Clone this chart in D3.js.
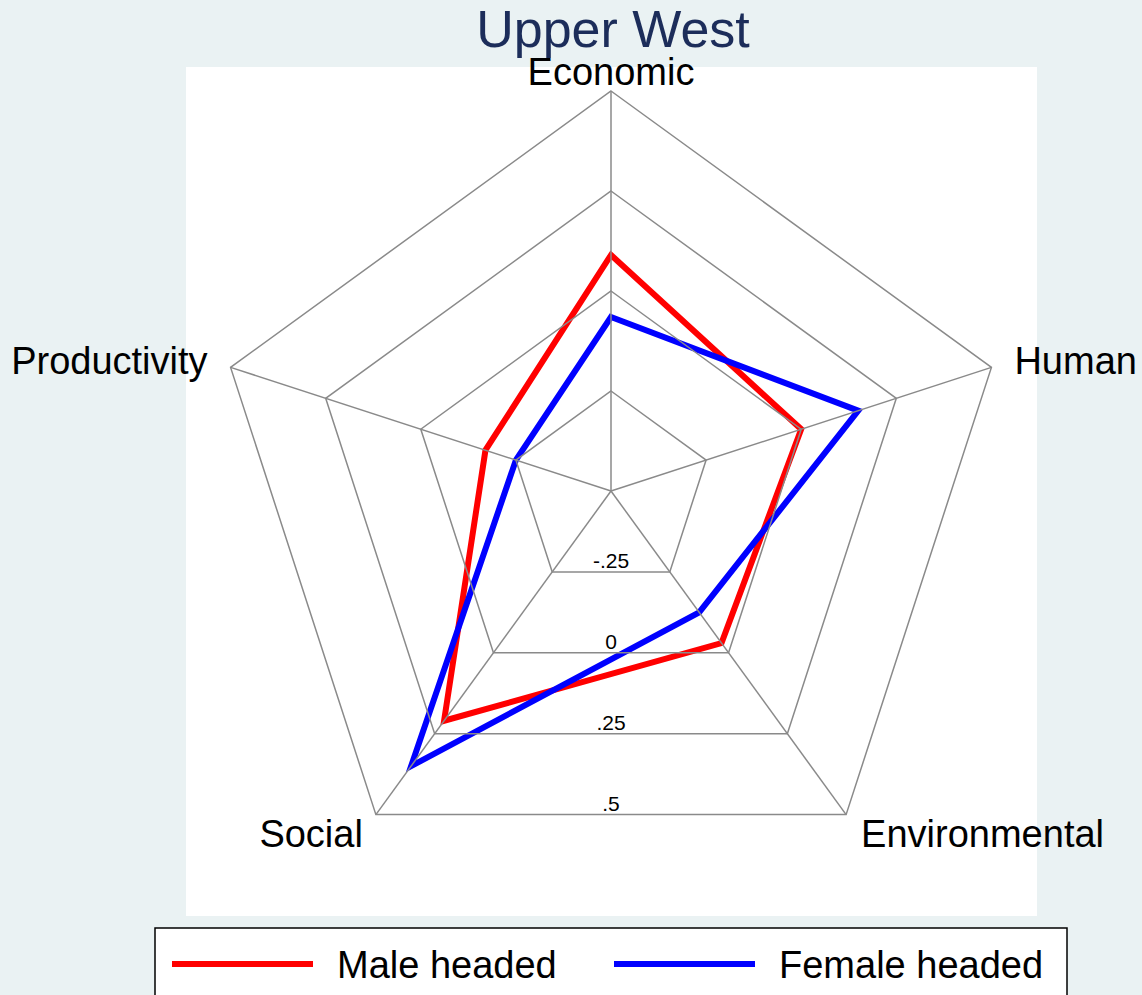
<!DOCTYPE html>
<html>
<head>
<meta charset="utf-8">
<script src="https://cdn.jsdelivr.net/npm/d3@7"></script>
<style>
  body { margin: 0; background: #eaf2f3; }
  text { font-family: "Liberation Sans", Arial, sans-serif; }
</style>
</head>
<body>
<div class="wrapper"></div>
<script>
// chart data
var axes = ["Economic", "Human", "Environmental", "Social", "Productivity"];
var seriesNames = ["Male headed", "Female headed"];
var maleValues = [0.09, 0.0, -0.03, 0.21, -0.17];
var femaleValues = [-0.065, 0.15, -0.125, 0.35, -0.25];
var ringValues = [-0.25, 0, 0.25, 0.5];
var ringLabels = ["-.25", "0", ".25", ".5"];
var seriesColors = ["#ff0000", "#0000ff"];

var width = 1142, height = 995;
var cx = 611, cy = 491;

var svg = d3.select(".wrapper")
  .append("svg")
    .attr("width", width)
    .attr("height", height);

// background + plot region
svg.append("rect")
    .attr("width", width).attr("height", height)
    .attr("fill", "#eaf2f3");
svg.append("rect")
    .attr("x", 186).attr("y", 67)
    .attr("width", 851).attr("height", 849)
    .attr("fill", "#ffffff");

var r = d3.scaleLinear()
    .domain([-0.5, 0.5])
    .range([0, 400]);

var angle = d3.scaleLinear()
    .domain([0, axes.length])
    .range([0, 2 * Math.PI]);

function point(i, v) {
  var a = angle(i);
  return [cx + r(v) * Math.sin(a), cy - r(v) * Math.cos(a)];
}

var g = svg.append("g");

// data polygons
var radial = d3.lineRadial()
    .angle(function(d, i) { return angle(i); })
    .radius(function(d) { return r(d); })
    .curve(d3.curveLinearClosed);

[maleValues, femaleValues].forEach(function(vals, k) {
  g.append("path")
      .attr("transform", "translate(" + cx + "," + cy + ")")
      .attr("d", radial(vals))
      .attr("fill", "none")
      .attr("stroke", seriesColors[k])
      .attr("stroke-width", 6)
      .attr("stroke-linejoin", "miter");
});

// grid on top of the lines
var grid = g.append("g")
    .attr("stroke", "#8a8a8a")
    .attr("stroke-width", 1.5)
    .attr("fill", "none");

ringValues.forEach(function(v) {
  grid.append("path")
      .attr("transform", "translate(" + cx + "," + cy + ")")
      .attr("d", radial(axes.map(function() { return v; })));
});

axes.forEach(function(a, i) {
  var p = point(i, 0.5);
  grid.append("line")
      .attr("x1", cx).attr("y1", cy)
      .attr("x2", p[0]).attr("y2", p[1]);
});

// ring labels along the bottom
ringValues.forEach(function(v, i) {
  g.append("text")
      .attr("x", cx)
      .attr("y", cy + r(v) * Math.cos(Math.PI / 5) - 4)
      .attr("text-anchor", "middle")
      .attr("font-size", 21)
      .attr("fill", "#000")
      .text(ringLabels[i]);
});

// axis labels
var labelPos = [
  {dx: 0, dy: -6, anchor: "middle"},
  {dx: 23, dy: 7, anchor: "start"},
  {dx: 15, dy: 32, anchor: "start"},
  {dx: -13, dy: 32, anchor: "end"},
  {dx: -23, dy: 7, anchor: "end"}
];
axes.forEach(function(a, i) {
  var p = point(i, 0.5);
  g.append("text")
      .attr("x", p[0] + labelPos[i].dx)
      .attr("y", p[1] + labelPos[i].dy)
      .attr("text-anchor", labelPos[i].anchor)
      .attr("font-size", 38)
      .attr("fill", "#000")
      .text(a);
});

// title
svg.append("text")
    .attr("x", 613)
    .attr("y", 47)
    .attr("text-anchor", "middle")
    .attr("font-size", 52)
    .attr("fill", "#1c2d5a")
    .text("Upper West");

// legend
var legend = svg.append("g");
legend.append("rect")
    .attr("x", 155).attr("y", 928)
    .attr("width", 912).attr("height", 90)
    .attr("fill", "#ffffff")
    .attr("stroke", "#000")
    .attr("stroke-width", 1.5);

var legendX = [172, 614];
seriesNames.forEach(function(name, k) {
  legend.append("line")
      .attr("x1", legendX[k]).attr("x2", legendX[k] + 141)
      .attr("y1", 964).attr("y2", 964)
      .attr("stroke", seriesColors[k])
      .attr("stroke-width", 6);
  legend.append("text")
      .attr("x", legendX[k] + 165)
      .attr("y", 978)
      .attr("font-size", 38)
      .attr("fill", "#000")
      .text(name);
});
</script>
</body>
</html>
